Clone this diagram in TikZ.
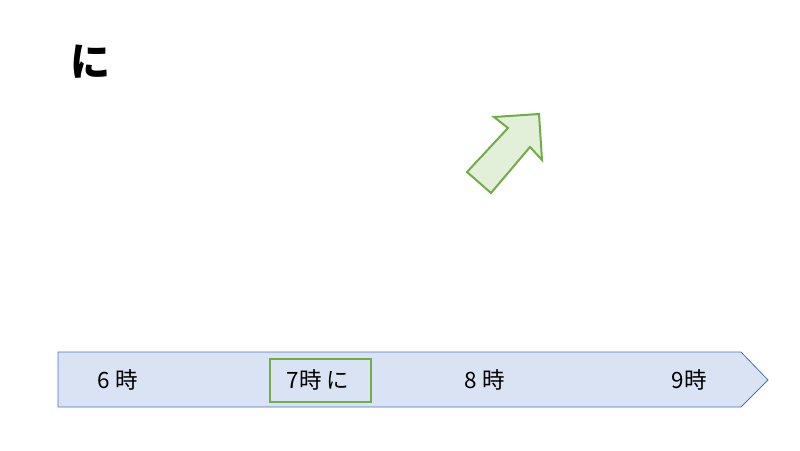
\documentclass[tikz,border=0pt]{standalone}
\usepackage{fontspec}
\newfontfamily\jpfont{Noto Sans CJK JP}
\definecolor{lineblue}{HTML}{4472C4}
\definecolor{fillblue}{HTML}{DAE3F3}
\definecolor{linegreen}{HTML}{70AD47}
\definecolor{fillgreen}{HTML}{E2F0D9}
\begin{document}
\begin{tikzpicture}[x=1pt,y=-1pt,
  hour/.style={font=\jpfont\fontsize{22.5}{22.5}\selectfont, inner sep=0pt},
  markbox/.style={draw=linegreen, line width=2pt, minimum width=101pt, minimum height=43pt}]
\useasboundingbox (0,0) rectangle (800,450);
\node [font=\jpfont\bfseries\fontsize{40}{40}\selectfont, inner sep=0pt] (title) at (90,62) {に};
\draw [draw=linegreen, fill=fillgreen, line width=2pt, line join=miter]
  (467,172) -- (491,193) -- (530,147) -- (542,160) -- (539,114) -- (494,117) -- (508,128) -- cycle;
\draw [draw=lineblue, fill=fillblue, line width=0.8pt]
  (58,352) -- (741,352) -- (768,380) -- (741,407) -- (58,407) -- cycle;
\node [hour] (six) at (118,380) {6 時};
\node [markbox] (box) at (320,380) {};
\node [hour] (seven) at (318,380) {7時 に};
\node [hour] (eight) at (485,380) {8 時};
\node [hour] (nine) at (689,380) {9時};
\end{tikzpicture}
\end{document}
